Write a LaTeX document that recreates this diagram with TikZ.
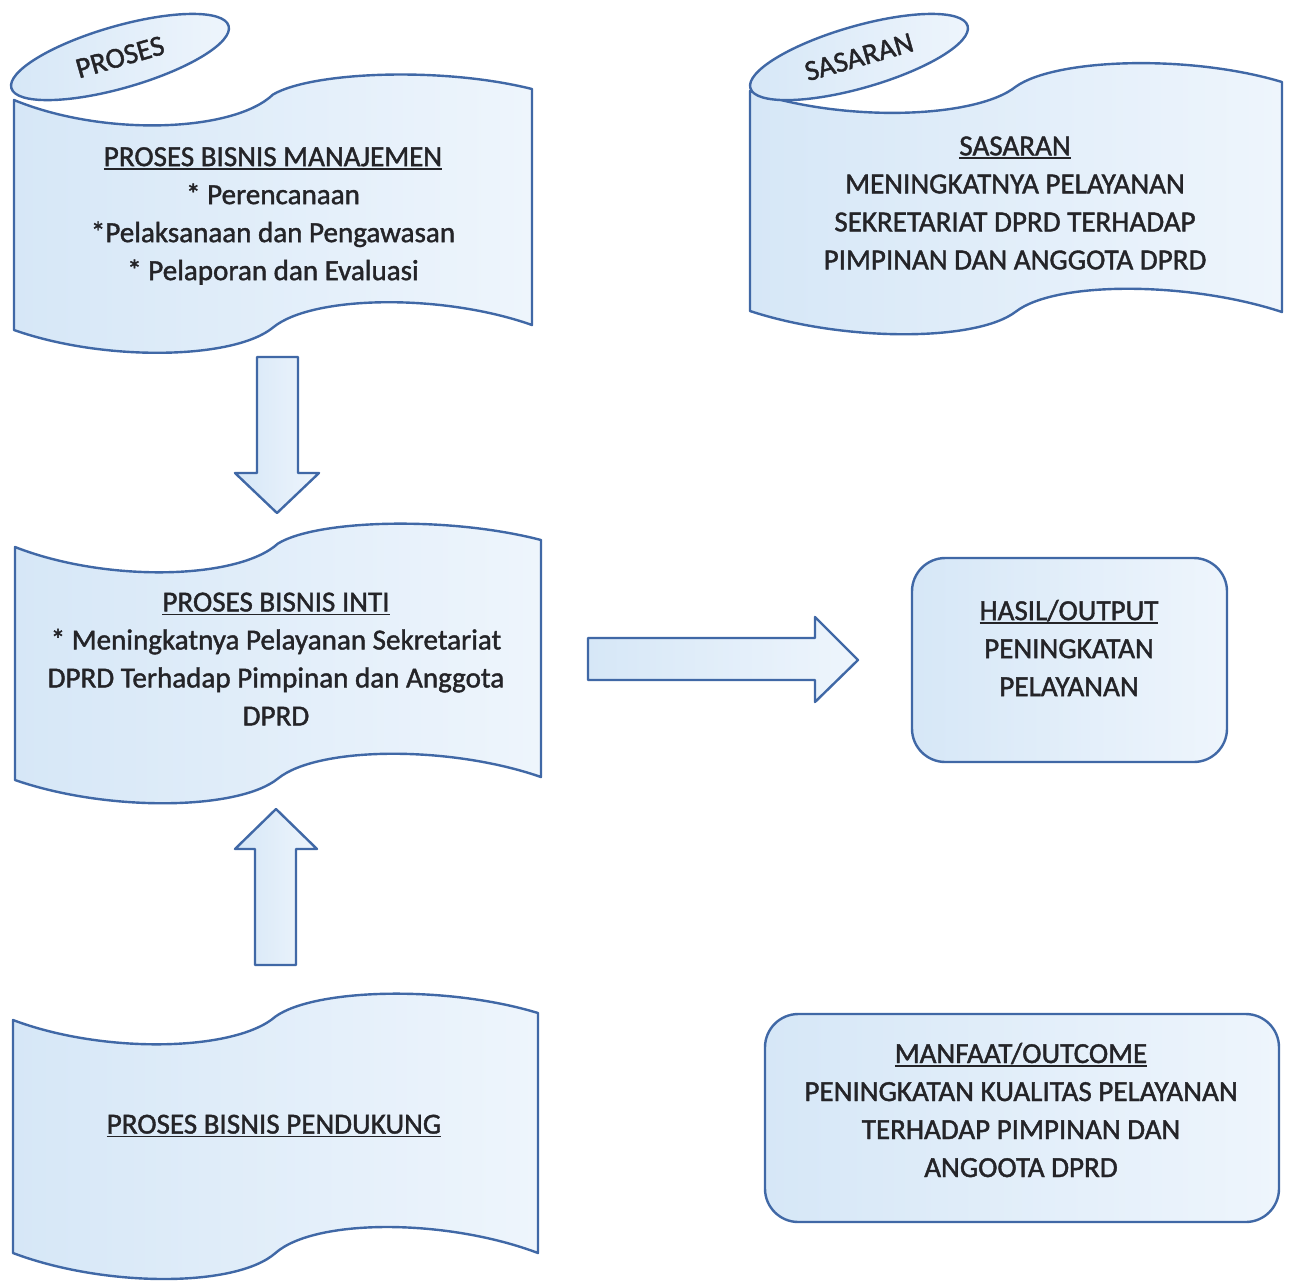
\documentclass[tikz,border=0pt]{standalone}
\usepackage{fontspec}
\setmainfont{Carlito}[FakeBold=1.4]
\usetikzlibrary{shapes.geometric}

\definecolor{edgeblue}{RGB}{64,104,166}
\definecolor{fillblue}{RGB}{214,231,247}
\definecolor{filllight}{RGB}{238,245,252}
\definecolor{inkgray}{RGB}{36,36,40}

% underlined heading line
\newcommand{\ulhead}[1]{\setbox0=\hbox{#1}\rlap{\rule[-2.8pt]{\wd0}{1.2pt}}\box0}

% punched-tape outline: xl, xr, top-left y, top-right y, bottom-left y,
% bottom-right y, top dip, top crest, bottom wave depth (y grows downwards)
\newcommand{\tapeshape}[9]{%
  \pgfmathsetmacro{\tpW}{(#2-#1)/2}%
  \pgfmathsetmacro{\tpFe}{0.35*\tpW}%
  \pgfmathsetmacro{\tpFm}{0.15*\tpW}%
  \pgfmathsetmacro{\tpXm}{#1+\tpW}%
  \pgfmathsetmacro{\tpYm}{(#3+#4)/2}%
  \pgfmathsetmacro{\tpYmb}{(#5+#6)/2}%
  \pgfmathsetmacro{\tpD}{4/3*#7}%
  \pgfmathsetmacro{\tpC}{4/3*#8}%
  \pgfmathsetmacro{\tpB}{4/3*#9}%
  \path[shapeline] (#1,#3)
    .. controls (#1+\tpFe,#3+\tpD) and (\tpXm-\tpFm,\tpYm+\tpD) .. (\tpXm,\tpYm)
    .. controls (\tpXm+\tpFm,\tpYm-\tpC) and (#2-\tpFe,#4-\tpC) .. (#2,#4)
    -- (#2,#6)
    .. controls (#2-\tpFe,#6-\tpB) and (\tpXm+\tpFm,\tpYmb-\tpB) .. (\tpXm,\tpYmb)
    .. controls (\tpXm-\tpFm,\tpYmb+\tpB) and (#1+\tpFe,#5+\tpB) .. (#1,#5)
    -- cycle;}

\tikzset{
  shapeline/.style={draw=edgeblue, line width=1.8pt, line join=round,
    left color=fillblue, right color=filllight},
  bodytext/.style={text=inkgray, font=\fontsize{21.8}{28.5}\selectfont,
    align=center, inner sep=0pt},
  roundbox/.style={shapeline, rounded corners=25pt, inner sep=0pt},
  tagoval/.style={shapeline, ellipse, inner sep=0pt, minimum width=169.5pt,
    minimum height=46.5pt, rotate=16, text=inkgray,
    font=\fontsize{21.8}{28.5}\selectfont},
}

\begin{document}
\begin{tikzpicture}[x=0.75pt,y=-0.75pt]
\useasboundingbox (0,0) rectangle (1293,1283);
\clip (0,0) rectangle (1293,1283);
\fill[white] (0,0) rectangle (1293,1283);

% management process
\tapeshape{14}{532}{100}{89}{330}{325}{28}{17}{24}
\node[bodytext] (mgmt) at (273,216) {\ulhead{PROSES BISNIS MANAJEMEN}\\{}* Perencanaan\\{}*Pelaksanaan dan Pengawasan\\{}* Pelaporan dan Evaluasi};
\node[tagoval] (procoval) at (120,57) {PROSES};

% target
\tapeshape{750}{1282}{91}{82}{311}{312}{24}{21}{23}
\node[bodytext] (target) at (1015,203) {\ulhead{SASARAN}\\MENINGKATNYA PELAYANAN\\SEKRETARIAT DPRD TERHADAP\\PIMPINAN DAN ANGGOTA DPRD};
\node[tagoval] (targoval) at (859,57) {SASARAN};

% core process
\tapeshape{15}{541}{547}{540}{780}{777}{27}{18}{24}
\node[bodytext] (core) at (276,659) {\ulhead{PROSES BISNIS INTI}\\{}* Meningkatnya Pelayanan Sekretariat\\DPRD Terhadap Pimpinan dan Anggota\\DPRD};

% support process
\tapeshape{13}{538}{1020}{1013}{1253}{1253}{26}{21}{26}
\node[bodytext] (support) at (274,1126) {\ulhead{PROSES BISNIS PENDUKUNG}};

% output and outcome
\node[roundbox, minimum width=236.25pt, minimum height=153pt] (outbox) at (1069.5,660) {};
\node[bodytext] (output) at (1069,648) {\ulhead{HASIL/OUTPUT}\\PENINGKATAN\\PELAYANAN};
\node[roundbox, minimum width=385.5pt, minimum height=156pt] (outcomebox) at (1022,1118) {};
\node[bodytext] (outcome) at (1021,1110) {\ulhead{MANFAAT/OUTCOME}\\PENINGKATAN KUALITAS PELAYANAN\\TERHADAP PIMPINAN DAN\\ANGOOTA DPRD};

% block arrows
\path[shapeline] (257,357) -- (298,357) -- (298,473) -- (319,473) -- (277,513) -- (235,473) -- (257,473) -- cycle;
\path[shapeline] (255,965) -- (296,965) -- (296,849) -- (317,849) -- (276,809) -- (235,849) -- (255,849) -- cycle;
\path[shapeline] (588,638) -- (815,638) -- (815,617) -- (858,660) -- (815,702) -- (815,680) -- (588,680) -- cycle;
\end{tikzpicture}
\end{document}
